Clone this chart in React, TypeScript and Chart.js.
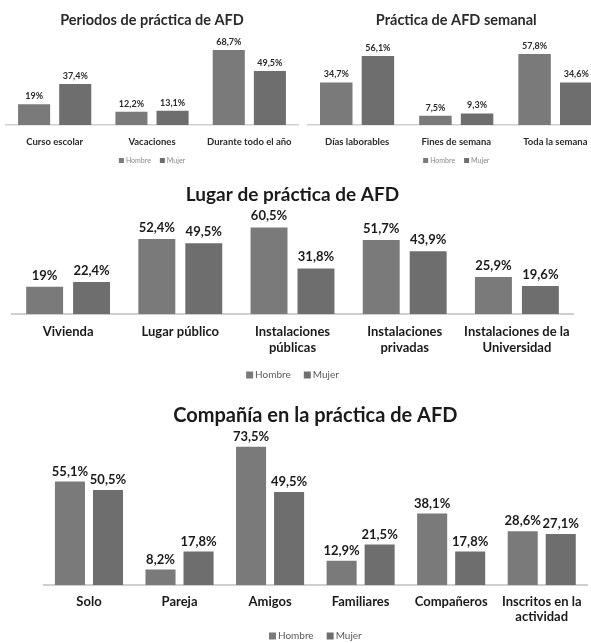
import React, { useEffect, useRef } from "react";
import { Chart, registerables } from "chart.js";

Chart.register(...registerables);

// ---------- data ----------
const seriesNames = ["Hombre", "Mujer"];

const periodTitle = "Periodos de práctica de AFD";
const periodCategories = ["Curso escolar", "Vacaciones", "Durante todo el año"];
const periodHombre = [19, 12.2, 68.7];
const periodMujer = [37.4, 13.1, 49.5];

const weeklyTitle = "Práctica de AFD semanal";
const weeklyCategories = ["Días laborables", "Fines de semana", "Toda la semana"];
const weeklyHombre = [34.7, 7.5, 57.8];
const weeklyMujer = [56.1, 9.3, 34.6];

const placeTitle = "Lugar de práctica de AFD";
const placeCategories = [
  ["Vivienda"],
  ["Lugar público"],
  ["Instalaciones", "públicas"],
  ["Instalaciones", "privadas"],
  ["Instalaciones de la", "Universidad"],
];
const placeHombre = [19, 52.4, 60.5, 51.7, 25.9];
const placeMujer = [22.4, 49.5, 31.8, 43.9, 19.6];

const companyTitle = "Compañía en la práctica de AFD";
const companyCategories = [
  ["Solo"],
  ["Pareja"],
  ["Amigos"],
  ["Familiares"],
  ["Compañeros"],
  ["Inscritos en la", "actividad"],
];
const companyHombre = [55.1, 8.2, 73.5, 12.9, 38.1, 28.6];
const companyMujer = [50.5, 17.8, 49.5, 21.5, 17.8, 27.1];

// ---------- styles ----------
const FONT = "Lato, 'Open Sans', sans-serif";
const HOMBRE_COLOR = "#7a7a7a";
const MUJER_COLOR = "#6e6e6e";

const fmt = (v: number) =>
  (Number.isInteger(v) ? String(v) : v.toFixed(1).replace(".", ",")) + "%";

const valueLabelsPlugin = {
  id: "valueLabels",
  afterDatasetsDraw(chart: any, _args: any, opts: any) {
    const ctx = chart.ctx;
    ctx.save();
    ctx.font = `bold ${opts.size}px ${FONT}`;
    ctx.fillStyle = opts.color;
    ctx.textAlign = "center";
    ctx.textBaseline = "middle";
    chart.data.datasets.forEach((ds: any, i: number) => {
      const meta = chart.getDatasetMeta(i);
      meta.data.forEach((bar: any, j: number) => {
        ctx.fillText(fmt(ds.data[j]), bar.x, bar.y - opts.gap);
      });
    });
    ctx.restore();
  },
};

const customLegendPlugin = {
  id: "customLegend",
  afterDraw(chart: any, _args: any, opts: any) {
    const ctx = chart.ctx;
    const area = chart.chartArea;
    ctx.save();
    ctx.font = `${opts.size}px ${FONT}`;
    ctx.textBaseline = "middle";
    ctx.textAlign = "left";
    const items = chart.data.datasets.map((ds: any) => ({
      text: ds.label,
      color: ds.backgroundColor,
      w: ctx.measureText(ds.label).width,
    }));
    const total =
      items.reduce((s: number, it: any) => s + opts.box + opts.boxGap + it.w, 0) +
      opts.itemGap * (items.length - 1);
    let x = (area.left + area.right) / 2 - total / 2;
    const y = area.bottom + opts.offset;
    items.forEach((it: any) => {
      ctx.fillStyle = it.color;
      ctx.fillRect(x, y - opts.box / 2, opts.box, opts.box);
      x += opts.box + opts.boxGap;
      ctx.fillStyle = opts.color;
      ctx.fillText(it.text, x, y);
      x += it.w + opts.itemGap;
    });
    ctx.restore();
  },
};

type Spec = {
  left: number;
  top: number;
  width: number;
  height: number;
  title: string;
  titleSize: number;
  titleGap: number;
  textColor: string;
  pad: { top: number; left: number; right: number; bottom: number };
  yMax: number;
  tickSize: number;
  tickLine: number;
  tickPad: number;
  axisH: number;
  valueSize: number;
  valueGap: number;
  legendSize: number;
  legendBox: number;
  legendOffset: number;
  legendColor: string;
  legendItemGap: number;
  barPct: number;
  catPct: number;
  axisWidth: number;
};

function BarPanel({
  spec,
  categories,
  hombre,
  mujer,
}: {
  spec: Spec;
  categories: any[];
  hombre: number[];
  mujer: number[];
}) {
  const ref = useRef<HTMLCanvasElement | null>(null);
  useEffect(() => {
    if (!ref.current) return;
    const chart = new Chart(ref.current, {
      type: "bar",
      data: {
        labels: categories,
        datasets: [
          {
            label: seriesNames[0],
            data: hombre,
            backgroundColor: HOMBRE_COLOR,
            barPercentage: spec.barPct,
            categoryPercentage: spec.catPct,
          },
          {
            label: seriesNames[1],
            data: mujer,
            backgroundColor: MUJER_COLOR,
            barPercentage: spec.barPct,
            categoryPercentage: spec.catPct,
          },
        ],
      },
      options: {
        responsive: true,
        maintainAspectRatio: false,
        animation: false,
        layout: { padding: spec.pad },
        scales: {
          x: {
            grid: { display: false, drawTicks: false },
            border: { display: true, color: "#cfcfcf", width: spec.axisWidth },
            ticks: {
              autoSkip: false,
              maxRotation: 0,
              minRotation: 0,
              padding: spec.tickPad,
              color: spec.textColor,
              font: {
                family: FONT,
                size: spec.tickSize,
                weight: "bold",
                lineHeight: spec.tickLine / spec.tickSize,
              },
            },
            afterFit: (scale: any) => {
              scale.height = spec.axisH;
              scale.paddingLeft = 0;
              scale.paddingRight = 0;
            },
          },
          y: { display: false, min: 0, max: spec.yMax },
        },
        plugins: {
          legend: { display: false },
          tooltip: { enabled: false },
          title: {
            display: true,
            text: spec.title,
            color: spec.textColor,
            font: { family: FONT, size: spec.titleSize, weight: "bold", lineHeight: 1.2 },
            padding: { top: 0, bottom: spec.titleGap },
          },
          valueLabels: { size: spec.valueSize, gap: spec.valueGap, color: spec.textColor },
          customLegend: {
            size: spec.legendSize,
            box: spec.legendBox,
            boxGap: 2,
            itemGap: spec.legendItemGap,
            offset: spec.legendOffset,
            color: spec.legendColor,
          },
        } as any,
      },
      plugins: [valueLabelsPlugin, customLegendPlugin],
    });
    return () => chart.destroy();
  }, []);
  return (
    <div
      style={{
        position: "absolute",
        left: spec.left,
        top: spec.top,
        width: spec.width,
        height: spec.height,
      }}
    >
      <canvas ref={ref} />
    </div>
  );
}

const specA: Spec = {
  left: 0, top: 0, width: 304, height: 172,
  title: periodTitle, titleSize: 14.5, titleGap: 8, textColor: "#2b2b2b",
  pad: { top: 11.8, left: 6, right: 6, bottom: 17 },
  yMax: 80.3,
  tickSize: 9.5, tickLine: 11, tickPad: 11, axisH: 30,
  valueSize: 9, valueGap: 8,
  legendSize: 7, legendBox: 5, legendOffset: 35.5, legendColor: "#8a8a8a", legendItemGap: 9,
  barPct: 0.78, catPct: 0.845, axisWidth: 1.5,
};

const specB: Spec = {
  ...specA,
  left: 302, width: 308,
  title: weeklyTitle,
  pad: { top: 11.8, left: 5.5, right: 5, bottom: 17 },
  yMax: 71.5,
  catPct: 0.84,
};

const specC: Spec = {
  left: 0, top: 178, width: 585, height: 210,
  title: placeTitle, titleSize: 19, titleGap: 10, textColor: "#1a1a1a",
  pad: { top: 5.6, left: 12, right: 12, bottom: 24 },
  yMax: 68.3,
  tickSize: 13, tickLine: 16, tickPad: 10, axisH: 50,
  valueSize: 13, valueGap: 11.5,
  legendSize: 10, legendBox: 7, legendOffset: 61, legendColor: "#595959", legendItemGap: 13,
  barPct: 0.787, catPct: 0.837, axisWidth: 2,
};

const specD: Spec = {
  left: 39, top: 395, width: 552, height: 248,
  title: companyTitle, titleSize: 20, titleGap: 10, textColor: "#1a1a1a",
  pad: { top: 9, left: 4.7, right: 4, bottom: 18 },
  yMax: 78.2,
  tickSize: 13, tickLine: 15, tickPad: 9.5, axisH: 40,
  valueSize: 13, valueGap: 10,
  legendSize: 10, legendBox: 7, legendOffset: 51, legendColor: "#595959", legendItemGap: 13,
  barPct: 0.79, catPct: 0.84, axisWidth: 2,
};

export default function App() {
  return (
    <div
      style={{
        position: "absolute",
        left: 0,
        top: 0,
        width: 591,
        height: 643,
        overflow: "hidden",
        background: "#ffffff",
      }}
    >
      <BarPanel spec={specA} categories={periodCategories} hombre={periodHombre} mujer={periodMujer} />
      <BarPanel spec={specB} categories={weeklyCategories} hombre={weeklyHombre} mujer={weeklyMujer} />
      <BarPanel spec={specC} categories={placeCategories} hombre={placeHombre} mujer={placeMujer} />
      <BarPanel spec={specD} categories={companyCategories} hombre={companyHombre} mujer={companyMujer} />
    </div>
  );
}
